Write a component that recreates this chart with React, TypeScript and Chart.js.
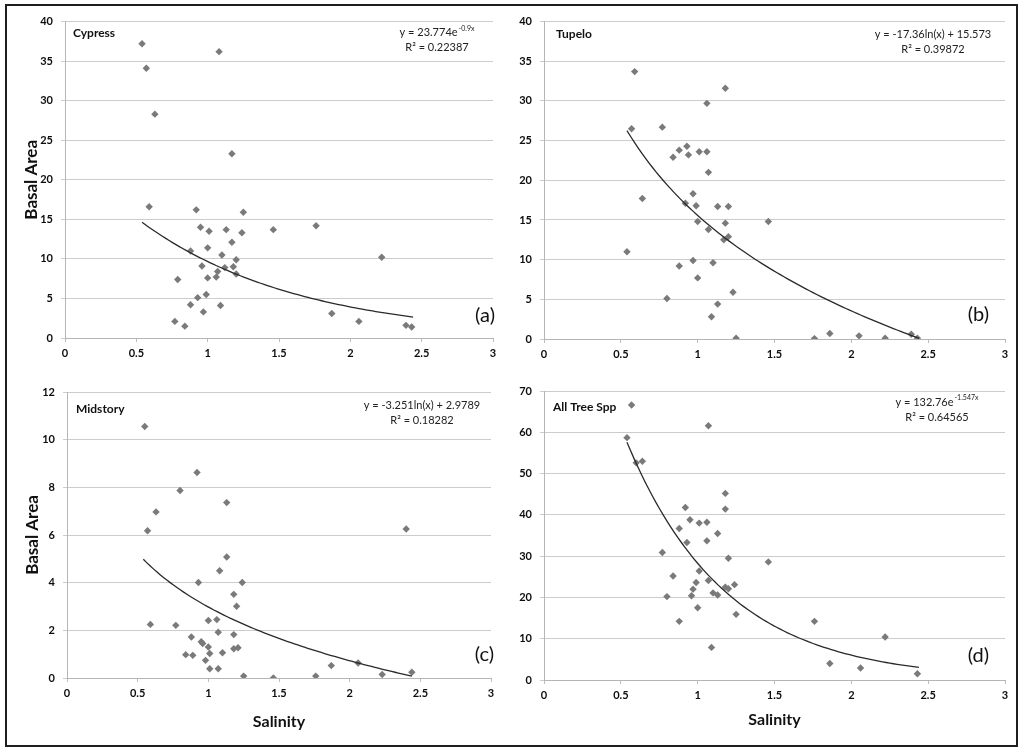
import { useEffect, useRef } from 'react';
import Chart from 'chart.js/auto';

const FONT = 'Lato, "Open Sans", sans-serif';

const X_TICKS = [0, 0.5, 1, 1.5, 2, 2.5, 3];
const X_TICK_LABELS = ['0', '0.5', '1', '1.5', '2', '2.5', '3'];
const Y_TICKS_TREE = [0, 5, 10, 15, 20, 25, 30, 35, 40];
const Y_TICKS_MID = [0, 2, 4, 6, 8, 10, 12];
const Y_TICKS_ALL = [0, 10, 20, 30, 40, 50, 60, 70];

// salinity / basal area
const cypressX = [0.54, 0.57, 0.63, 0.59, 1.08, 1.17, 0.92, 1.25, 0.95, 1.01, 1.13, 1.24, 1.46, 1.76, 1.17, 0.88, 1.0, 1.1, 1.2, 2.22, 0.96, 1.12, 1.18, 1.07, 1.06, 1.0, 1.2, 0.79, 0.99, 0.93, 0.88, 1.09, 0.97, 1.87, 0.77, 0.84, 2.06, 2.39, 2.43];
const cypressY = [37.2, 34.1, 28.3, 16.6, 36.2, 23.3, 16.2, 15.9, 14.0, 13.5, 13.7, 13.3, 13.7, 14.2, 12.1, 11.0, 11.4, 10.5, 9.9, 10.2, 9.1, 8.9, 9.0, 8.4, 7.7, 7.6, 8.1, 7.4, 5.5, 5.1, 4.2, 4.1, 3.3, 3.1, 2.1, 1.5, 2.1, 1.6, 1.4];

const tupeloX = [0.59, 1.18, 1.06, 0.57, 0.77, 0.93, 0.88, 0.84, 0.94, 1.01, 1.06, 1.07, 0.97, 0.64, 0.92, 0.99, 1.13, 1.2, 1.0, 1.18, 1.46, 1.07, 1.2, 1.17, 0.54, 0.97, 0.88, 1.1, 1.0, 1.23, 0.8, 1.13, 1.09, 1.25, 1.76, 1.86, 2.05, 2.22, 2.39, 2.43];
const tupeloY = [33.7, 31.6, 29.7, 26.5, 26.7, 24.3, 23.8, 22.9, 23.2, 23.6, 23.6, 21.0, 18.3, 17.7, 17.1, 16.8, 16.7, 16.7, 14.8, 14.6, 14.8, 13.8, 12.9, 12.5, 11.0, 9.9, 9.2, 9.6, 7.7, 5.9, 5.1, 4.4, 2.8, 0.1, 0.05, 0.7, 0.4, 0.1, 0.6, 0.1];

const midX = [0.55, 0.92, 0.8, 1.13, 0.63, 0.57, 2.4, 1.13, 1.08, 0.93, 1.24, 1.18, 1.2, 0.59, 0.77, 1.0, 1.06, 1.07, 1.18, 0.88, 0.95, 0.96, 1.0, 1.18, 1.21, 0.84, 0.89, 1.01, 1.1, 0.98, 1.01, 1.07, 1.25, 1.46, 1.76, 1.87, 2.06, 2.23, 2.44];
const midY = [10.55, 8.62, 7.87, 7.36, 6.97, 6.18, 6.25, 5.08, 4.5, 4.01, 4.01, 3.51, 3.01, 2.25, 2.21, 2.41, 2.45, 1.92, 1.82, 1.72, 1.52, 1.45, 1.3, 1.23, 1.27, 0.98, 0.95, 1.03, 1.06, 0.74, 0.39, 0.39, 0.08, 0.0, 0.08, 0.52, 0.63, 0.15, 0.24];

const allX = [0.57, 1.07, 0.54, 0.6, 0.64, 1.18, 0.92, 1.18, 0.95, 1.01, 1.06, 0.88, 1.13, 1.06, 0.93, 0.77, 1.2, 1.46, 1.01, 0.84, 1.07, 0.99, 1.24, 1.18, 1.2, 0.97, 1.1, 1.13, 0.96, 0.8, 1.0, 1.25, 0.88, 1.76, 2.22, 1.09, 1.86, 2.06, 2.43];
const allY = [66.6, 61.6, 58.7, 52.6, 53.0, 45.2, 41.8, 41.4, 38.8, 38.0, 38.2, 36.7, 35.5, 33.7, 33.3, 30.9, 29.5, 28.6, 26.4, 25.2, 24.1, 23.6, 23.1, 22.5, 22.1, 22.0, 21.1, 20.6, 20.4, 20.2, 17.5, 15.9, 14.2, 14.2, 10.4, 7.9, 4.0, 2.9, 1.5];

// fitted trendlines, coefficients as printed on each panel
const TREND_RANGE = [0.54, 2.44];
const cypressFit = (x: number) => 23.774 * Math.exp(-0.9 * x);
const tupeloFit = (x: number) => -17.36 * Math.log(x) + 15.573;
const midFit = (x: number) => -3.251 * Math.log(x) + 2.9789;
const allFit = (x: number) => 132.76 * Math.exp(-1.547 * x);

const trendPoints = (f: (x: number) => number) => {
  const pts = [];
  const n = 80;
  for (let i = 0; i <= n; i++) {
    const x = TREND_RANGE[0] + ((TREND_RANGE[1] - TREND_RANGE[0]) * i) / n;
    pts.push({ x, y: f(x) });
  }
  return pts;
};

const notesPlugin = {
  id: 'notes',
  afterDatasetsDraw(chart, _args, o) {
    const { ctx, chartArea: a } = chart;
    ctx.save();
    ctx.textBaseline = 'middle';

    ctx.fillStyle = '#111';
    ctx.font = `bold 12px ${FONT}`;
    ctx.textAlign = 'left';
    ctx.fillText(o.title, a.left + o.titleDx, a.top + o.titleDy);

    const cx = a.right - o.eqDx;
    ctx.fillStyle = '#222';
    ctx.font = `11px ${FONT}`;
    const w1 = ctx.measureText(o.eq).width;
    ctx.font = `7px ${FONT}`;
    const w2 = o.sup ? ctx.measureText(o.sup).width + 1 : 0;
    const x0 = cx - (w1 + w2) / 2;
    ctx.font = `11px ${FONT}`;
    ctx.fillText(o.eq, x0, a.top + o.eqDy);
    if (o.sup) {
      ctx.font = `7px ${FONT}`;
      ctx.fillText(o.sup, x0 + w1 + 1, a.top + o.eqDy - 4);
    }
    ctx.font = `11px ${FONT}`;
    ctx.textAlign = 'center';
    ctx.fillText(o.r2, cx, a.top + o.eqDy + 15);

    ctx.fillStyle = '#111';
    ctx.font = `20px ${FONT}`;
    ctx.textAlign = 'right';
    ctx.fillText(o.letter, a.right + o.letterDx, a.bottom - o.letterDy);
    ctx.restore();
  },
};

const Panel = ({ p }) => {
  const canvasRef = useRef(null);
  const chartRef = useRef(null);

  useEffect(() => {
    if (chartRef.current) chartRef.current.destroy();

    const pts = p.xs.map((x, i) => ({ x, y: p.ys[i] }));
    const yw = p.area.l - p.box.left;
    const xh = p.box.top + p.box.height - p.area.b;
    const tickFont = { family: FONT, size: 11, weight: 'bold' };

    chartRef.current = new Chart(canvasRef.current, {
      type: 'scatter',
      data: {
        datasets: [
          {
            data: trendPoints(p.fit),
            showLine: true,
            borderColor: '#2a2a2a',
            borderWidth: 1.3,
            pointRadius: 0,
          },
          {
            data: pts,
            pointStyle: 'rectRot',
            pointRadius: 3.7,
            backgroundColor: '#7a7a7a',
            borderColor: '#7a7a7a',
            borderWidth: 0,
          },
        ],
      },
      plugins: [notesPlugin],
      options: {
        animation: false,
        responsive: false,
        events: [],
        layout: {
          padding: {
            left: 0,
            bottom: 0,
            top: p.area.t - p.box.top,
            right: p.box.left + p.box.width - p.area.r,
          },
        },
        plugins: {
          legend: { display: false },
          tooltip: { enabled: false },
          notes: p.notes,
        },
        scales: {
          x: {
            type: 'linear',
            min: 0,
            max: 3,
            afterBuildTicks: (s) => {
              s.ticks = X_TICKS.map((v) => ({ value: v }));
            },
            afterFit: (s) => {
              s.height = xh;
            },
            ticks: {
              autoSkip: false,
              maxRotation: 0,
              padding: 5,
              color: '#0d0d0d',
              font: tickFont,
              callback: (v) => X_TICK_LABELS[X_TICKS.indexOf(v)],
            },
            grid: { drawOnChartArea: false, tickLength: 4, color: '#bdbdbd' },
            border: { color: '#b5b5b5' },
            title: {
              display: p.xTitle,
              text: 'Salinity',
              color: '#111',
              font: { family: FONT, size: 16, weight: 'bold' },
              padding: { top: 0, bottom: p.xTitlePad },
            },
          },
          y: {
            min: p.yTicks[0],
            max: p.yTicks[p.yTicks.length - 1],
            afterBuildTicks: (s) => {
              s.ticks = p.yTicks.map((v) => ({ value: v }));
            },
            afterFit: (s) => {
              s.width = yw;
            },
            ticks: { padding: 8, color: '#0d0d0d', font: tickFont },
            grid: { tickLength: 4, color: '#cccccc' },
            border: { color: '#b5b5b5' },
            title: {
              display: p.yTitle,
              text: 'Basal Area',
              color: '#111',
              font: { family: FONT, size: 17, weight: 'bold' },
              padding: { top: p.yTitlePad, bottom: 0 },
            },
          },
        },
      },
    });

    return () => {
      if (chartRef.current) {
        chartRef.current.destroy();
        chartRef.current = null;
      }
    };
  }, [p]);

  return (
    <canvas
      ref={canvasRef}
      width={p.box.width}
      height={p.box.height}
      style={{
        position: 'absolute',
        left: p.box.left,
        top: p.box.top,
        width: p.box.width,
        height: p.box.height,
      }}
    />
  );
};

const PANELS = [
  {
    xs: cypressX, ys: cypressY, fit: cypressFit, yTicks: Y_TICKS_TREE,
    box: { left: 8, top: 7, width: 500, height: 365 },
    area: { l: 65, t: 19, r: 493, b: 338 },
    yTitle: true, yTitlePad: 13, xTitle: false, xTitlePad: 0,
    notes: {
      title: 'Cypress', titleDx: 8, titleDy: 12,
      eq: 'y = 23.774e', sup: '-0.9x', r2: 'R² = 0.22387', eqDx: 56, eqDy: 11,
      letter: '(a)', letterDx: 2, letterDy: 22,
    },
  },
  {
    xs: tupeloX, ys: tupeloY, fit: tupeloFit, yTicks: Y_TICKS_TREE,
    box: { left: 510, top: 7, width: 505, height: 365 },
    area: { l: 544, t: 19, r: 1005, b: 339 },
    yTitle: false, yTitlePad: 0, xTitle: false, xTitlePad: 0,
    notes: {
      title: 'Tupelo', titleDx: 12, titleDy: 13,
      eq: 'y = -17.36ln(x) + 15.573', sup: '', r2: 'R² = 0.39872', eqDx: 72, eqDy: 13,
      letter: '(b)', letterDx: -16, letterDy: 24,
    },
  },
  {
    xs: midX, ys: midY, fit: midFit, yTicks: Y_TICKS_MID,
    box: { left: 8, top: 375, width: 500, height: 368 },
    area: { l: 67, t: 392, r: 491, b: 678 },
    yTitle: true, yTitlePad: 14, xTitle: true, xTitlePad: 12,
    notes: {
      title: 'Midstory', titleDx: 9, titleDy: 17,
      eq: 'y = -3.251ln(x) + 2.9789', sup: '', r2: 'R² = 0.18282', eqDx: 69, eqDy: 13,
      letter: '(c)', letterDx: 3, letterDy: 23,
    },
  },
  {
    xs: allX, ys: allY, fit: allFit, yTicks: Y_TICKS_ALL,
    box: { left: 510, top: 375, width: 505, height: 368 },
    area: { l: 544, t: 391, r: 1005, b: 680 },
    yTitle: false, yTitlePad: 0, xTitle: true, xTitlePad: 14,
    notes: {
      title: 'All Tree Spp', titleDx: 9, titleDy: 16,
      eq: 'y = 132.76e', sup: '-1.547x', r2: 'R² = 0.64565', eqDx: 68, eqDy: 11,
      letter: '(d)', letterDx: -16, letterDy: 24,
    },
  },
];

export default function App() {
  return (
    <div style={{ position: 'absolute', left: 0, top: 0, width: 1024, height: 754, background: '#fff' }}>
      <div
        style={{
          position: 'absolute',
          left: 5,
          top: 4,
          width: 1013,
          height: 743,
          border: '2.5px solid #1e1e1e',
          boxSizing: 'border-box',
        }}
      />
      {PANELS.map((p, i) => (
        <Panel key={i} p={p} />
      ))}
    </div>
  );
}
